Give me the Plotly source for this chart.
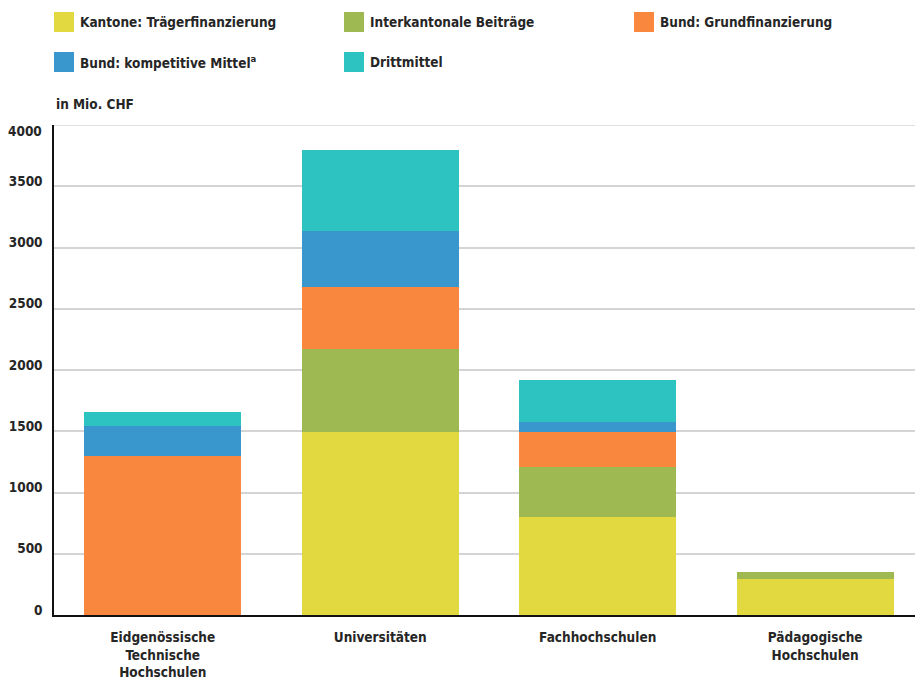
import plotly.graph_objects as go

# Hochschulfinanzierung nach Quelle, in Mio. CHF
categories = [
    "Eidgenössische<br>Technische<br>Hochschulen",
    "Universitäten",
    "Fachhochschulen",
    "Pädagogische<br>Hochschulen",
]
series_names = [
    "Kantone: Trägerfinanzierung",
    "Interkantonale Beiträge",
    "Bund: Grundfinanzierung",
    "Bund: kompetitive Mittel<sup>a</sup>",
    "Drittmittel",
]
kantone = [0, 1495, 800, 295]
interkantonal = [0, 678, 408, 57]
bund_grund = [1300, 501, 286, 0]
bund_kompetitiv = [245, 463, 82, 0]
drittmittel = [115, 662, 343, 0]
series_values = [kantone, interkantonal, bund_grund, bund_kompetitiv, drittmittel]
colors = ["#E2D83F", "#9EB852", "#F9883E", "#3A97CD", "#2CC3C0"]
y_ticks = [0, 500, 1000, 1500, 2000, 2500, 3000, 3500]
y_max = 4000

FONT = "DejaVu Sans Condensed"
FS = 13.5
TEXT = "#262626"
W, H = 915, 682
L, R, T, B = 54, 0, 125, 67
PW, PH = W - L - R, H - T - B


def px_x(px):
    return (px - L) / PW


def px_y(py):
    return (H - B - py) / PH


fig = go.Figure()
for name, vals, col in zip(series_names, series_values, colors):
    fig.add_trace(go.Bar(
        x=list(range(len(categories))), y=vals, name=name,
        marker=dict(color=col, line=dict(width=0)),
        width=0.722, showlegend=False,
    ))

# legend: 3 columns x 2 rows of square swatches
col_x = [54, 344, 634]
row_y = [12, 52]
shapes, annotations = [], []
for i, (name, col) in enumerate(zip(series_names, colors)):
    cx = col_x[i % 3]
    ry = row_y[i // 3]
    shapes.append(dict(type="rect", xref="paper", yref="paper",
                       x0=px_x(cx), x1=px_x(cx + 20), y0=px_y(ry + 20), y1=px_y(ry),
                       fillcolor=col, line=dict(width=0)))
    annotations.append(dict(xref="paper", yref="paper", x=px_x(cx + 24), y=px_y(ry + 10),
                            text="<b>" + name + "</b>", showarrow=False,
                            xanchor="left", yanchor="middle",
                            font=dict(family=FONT, size=FS, color=TEXT)))

# top gridline and its label
shapes.append(dict(type="line", xref="paper", yref="y", x0=0, x1=1, y0=y_max, y1=y_max,
                   line=dict(color="#d4d4d4", width=1.5), layer="below"))
annotations.append(dict(xref="paper", yref="y", x=px_x(44), y=y_max, yshift=-6,
                        text="<b>%d</b>" % y_max, showarrow=False,
                        xanchor="right", yanchor="middle",
                        font=dict(family=FONT, size=FS, color=TEXT)))
annotations.append(dict(xref="paper", yref="paper", x=px_x(54), y=px_y(104),
                        text="<b>in Mio. CHF</b>", showarrow=False,
                        xanchor="left", yanchor="middle",
                        font=dict(family=FONT, size=FS, color=TEXT)))

fig.update_layout(
    width=W, height=H,
    margin=dict(l=L, r=R, t=T, b=B, pad=0),
    barmode="stack", bargap=0,
    plot_bgcolor="white", paper_bgcolor="white",
    font=dict(family=FONT, size=FS, color=TEXT),
    shapes=shapes, annotations=annotations,
    xaxis=dict(
        range=[-0.5, 3.459],
        tickvals=list(range(len(categories))),
        ticktext=["<b>" + c.replace("<br>", "</b><br><b>") + "</b>" for c in categories],
        showgrid=False, zeroline=False,
        showline=True, linecolor="#111111", linewidth=1.5,
        ticks="", ticklabelstandoff=9,
        tickfont=dict(family=FONT, size=FS, color=TEXT),
    ),
    yaxis=dict(
        range=[0, y_max],
        tickvals=y_ticks,
        ticktext=["<b>%d</b>" % v for v in y_ticks],
        showgrid=True, gridcolor="#d4d4d4", gridwidth=1.5,
        zeroline=False,
        showline=True, linecolor="#111111", linewidth=1.5,
        ticks="", ticklabelstandoff=7, ticklabelshift=-5,
        tickfont=dict(family=FONT, size=FS, color=TEXT),
    ),
)

fig.write_html("out.html")
